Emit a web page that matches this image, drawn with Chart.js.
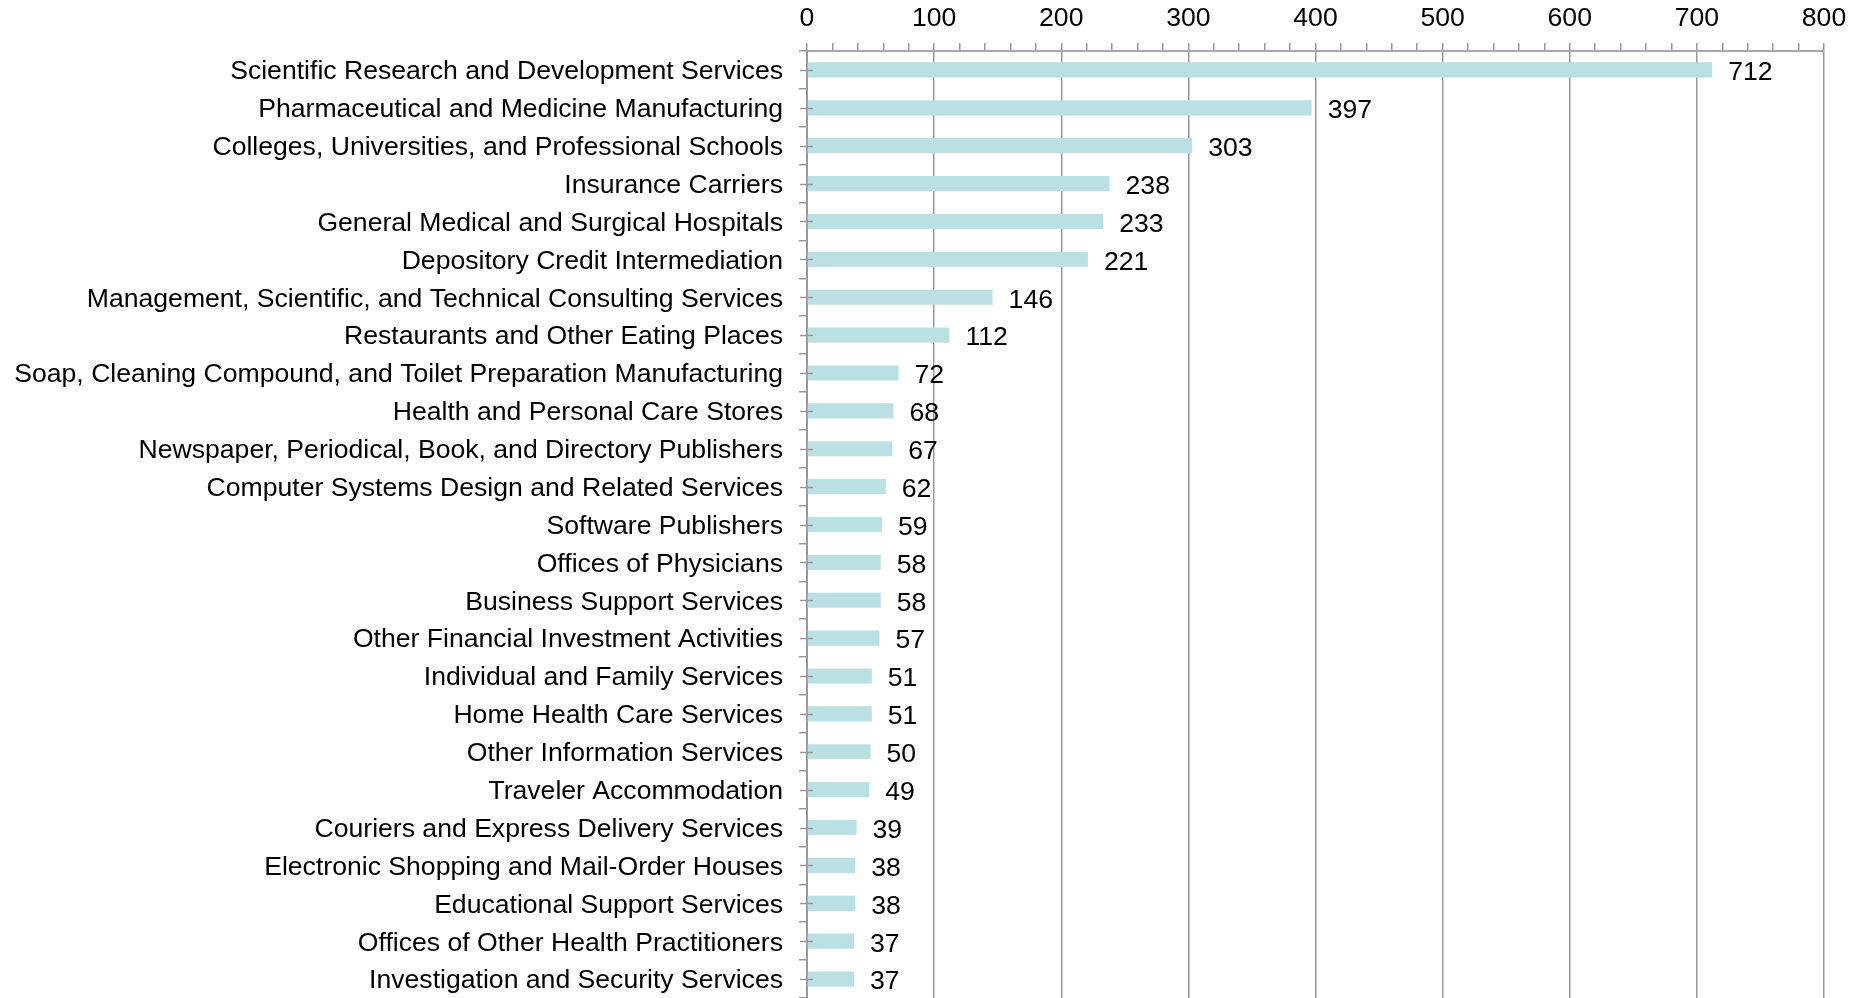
<!DOCTYPE html>
<html>
<head>
<meta charset="utf-8">
<script src="https://cdn.jsdelivr.net/npm/chart.js@4"></script>
<style>
  html, body { margin: 0; padding: 0; background: #fff; }
  canvas { display: block; }
</style>
</head>
<body>
<canvas id="chart" width="1862" height="998"></canvas>
<script>
const industries = [
  "Scientific Research and Development Services",
  "Pharmaceutical and Medicine Manufacturing",
  "Colleges, Universities, and Professional Schools",
  "Insurance Carriers",
  "General Medical and Surgical Hospitals",
  "Depository Credit Intermediation",
  "Management, Scientific, and Technical Consulting Services",
  "Restaurants and Other Eating Places",
  "Soap, Cleaning Compound, and Toilet Preparation Manufacturing",
  "Health and Personal Care Stores",
  "Newspaper, Periodical, Book, and Directory Publishers",
  "Computer Systems Design and Related Services",
  "Software Publishers",
  "Offices of Physicians",
  "Business Support Services",
  "Other Financial Investment Activities",
  "Individual and Family Services",
  "Home Health Care Services",
  "Other Information Services",
  "Traveler Accommodation",
  "Couriers and Express Delivery Services",
  "Electronic Shopping and Mail-Order Houses",
  "Educational Support Services",
  "Offices of Other Health Practitioners",
  "Investigation and Security Services"
];
const counts = [712, 397, 303, 238, 233, 221, 146, 112, 72, 68, 67, 62, 59, 58, 58, 57, 51, 51, 50, 49, 39, 38, 38, 37, 37];
const axisMin = 0;
const axisMax = 800;
const majorStep = 100;
const minorStep = 20;

const FONT = "'Liberation Sans', Arial, sans-serif";
const FONT_SIZE = 26.6;
const GRID = "#989898";

// value labels to the right of each bar
const valueLabels = {
  id: "valueLabels",
  afterDatasetsDraw(chart) {
    const ctx = chart.ctx;
    const meta = chart.getDatasetMeta(0);
    ctx.save();
    ctx.font = FONT_SIZE + "px " + FONT;
    ctx.fillStyle = "#000";
    ctx.textAlign = "left";
    ctx.textBaseline = "middle";
    meta.data.forEach((bar, i) => {
      ctx.fillText(String(counts[i]), bar.x + 16, bar.y + 3);
    });
    ctx.restore();
  }
};

// small cross ticks at category centres on the left axis
const centreTicks = {
  id: "centreTicks",
  afterDraw(chart) {
    const y = chart.scales.y;
    const ctx = chart.ctx;
    ctx.save();
    ctx.strokeStyle = GRID;
    ctx.lineWidth = 1.5;
    industries.forEach((_, i) => {
      const py = Math.round(y.getPixelForValue(i)) + 0.5;
      ctx.beginPath();
      ctx.moveTo(y.right - 7, py);
      ctx.lineTo(y.right + 6, py);
      ctx.stroke();
    });
    ctx.restore();
  }
};

new Chart(document.getElementById("chart"), {
  type: "bar",
  data: {
    labels: industries,
    datasets: [{
      data: counts,
      backgroundColor: "#bbe0e3",
      barPercentage: 0.4,
      categoryPercentage: 1
    }]
  },
  options: {
    indexAxis: "y",
    responsive: false,
    animation: false,
    layout: { padding: { left: 0, right: 38, top: 0, bottom: 0 } },
    plugins: {
      legend: { display: false },
      tooltip: { enabled: false }
    },
    scales: {
      x: {
        position: "top",
        min: axisMin,
        max: axisMax,
        afterFit: (s) => {
          s.height = 51;
          s.paddingLeft = 0;
          s.paddingRight = 0;
        },
        ticks: {
          stepSize: minorStep,
          autoSkip: false,
          maxRotation: 0,
          padding: 8,
          color: "#000",
          font: { family: FONT, size: FONT_SIZE },
          callback: (v) => (v % majorStep === 0 ? String(v) : "")
        },
        grid: {
          color: (c) => (c.tick && c.tick.value % majorStep === 0 ? GRID : "rgba(0,0,0,0)"),
          tickColor: GRID,
          lineWidth: 1.5,
          tickLength: 8
        },
        border: { color: "#a8a8a8", width: 2 }
      },
      y: {
        afterFit: (s) => {
          s.width = 807;
          s.paddingTop = 0;
          s.paddingBottom = 0;
        },
        ticks: {
          autoSkip: false,
          padding: 16,
          labelOffset: 2,
          color: "#000",
          font: { family: FONT, size: FONT_SIZE }
        },
        grid: {
          offset: true,
          drawOnChartArea: false,
          color: GRID,
          lineWidth: 1.5,
          tickLength: 8
        },
        border: { color: GRID, width: 2 }
      }
    }
  },
  plugins: [valueLabels, centreTicks]
});
</script>
</body>
</html>
